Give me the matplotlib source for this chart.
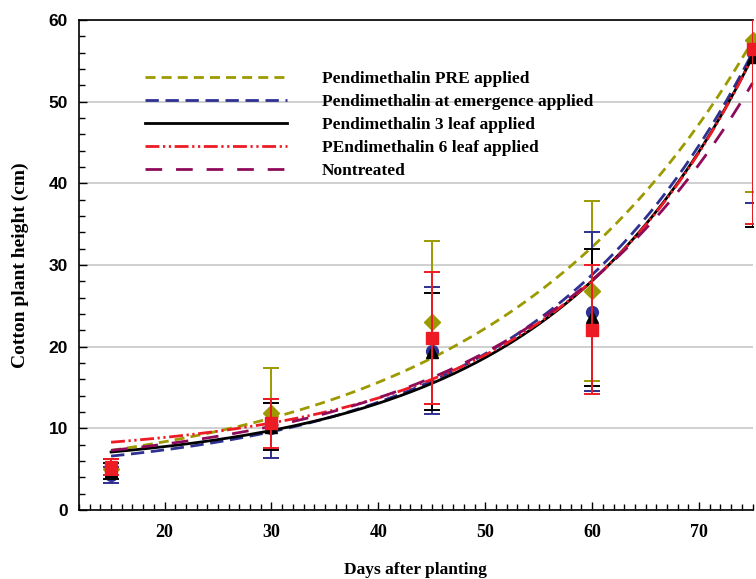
import numpy as np
import matplotlib
matplotlib.use("Agg")
import matplotlib.pyplot as plt
from matplotlib.ticker import MultipleLocator

# ---- data ----
days = [15, 30, 45, 60, 75]
labels = ["Pendimethalin PRE applied",
          "Pendimethalin at emergence applied",
          "Pendimethalin 3 leaf applied",
          "PEndimethalin 6 leaf applied",
          "Nontreated"]
colors = ["#9c9a00", "#2e3192", "#000000", "#ed1c24", "#8e0b5a"]

pre_mean = [5.0, 11.9, 23.0, 26.8, 57.6]
pre_err = [1.2, 5.5, 10.0, 11.0, 18.6]
emer_mean = [4.3, 10.0, 19.5, 24.3, 56.0]
emer_err = [1.0, 3.6, 7.8, 9.7, 18.4]
leaf3_mean = [4.8, 10.2, 19.4, 23.6, 55.5]
leaf3_err = [1.0, 2.9, 7.2, 8.4, 20.8]
leaf6_mean = [5.3, 10.6, 21.1, 22.1, 56.5]
leaf6_err = [1.0, 3.0, 8.1, 7.9, 21.5]

# fitted curve parameters: height = a + b * exp(c * day)
fit_a = [2.668, 3.870, 4.868, 6.435, 4.388]
fit_b = [2.497, 1.306, 1.023, 0.823, 1.446]
fit_c = [0.04118, 0.04916, 0.05202, 0.0545, 0.04667]

styles = [(0, (3.6, 2.2)),
          (0, (4.8, 2.4)),
          "-",
          (0, (5.0, 1.3, 0.8, 1.3, 0.8, 1.3)),
          (0, (6.0, 5.0))]

fig = plt.figure(figsize=(7.56, 5.79), dpi=100)
ax = fig.add_axes([79/756, 1 - 510/579, (752.5 - 79)/756, (510 - 20)/579])

xs = np.linspace(days[0], days[-1], 300)
handles = []
for a, b, c, col, ls, lab in zip(fit_a, fit_b, fit_c, colors, styles, labels):
    h, = ax.plot(xs, a + b * np.exp(c * xs), color=col, lw=2.0, ls=ls,
                 label=lab, zorder=3, clip_on=False)
    handles.append(h)

points = [(pre_mean, pre_err, colors[0], "D", 8.5),
          (emer_mean, emer_err, colors[1], "o", 8.5),
          (leaf3_mean, leaf3_err, colors[2], "^", 8.5),
          (leaf6_mean, leaf6_err, colors[3], "s", 8.5)]
for i, (m, e, col, mk, ms) in enumerate(points):
    eb = ax.errorbar(days, m, yerr=e, fmt=mk, color=col, ms=ms, mec=col,
                     ecolor=col, elinewidth=1.4, capsize=6, capthick=1.4,
                     zorder=4 + i)
    for art in eb.lines[0:1]:
        art.set_clip_on(False)

ax.set_xlim(12, 75)
ax.set_ylim(0, 60)
ax.xaxis.set_major_locator(MultipleLocator(10))
ax.xaxis.set_minor_locator(MultipleLocator(1))
ax.yaxis.set_major_locator(MultipleLocator(10))
ax.yaxis.set_minor_locator(MultipleLocator(2))
ax.tick_params(which="both", direction="in", top=False, right=False, width=1)
ax.tick_params(which="major", length=6)
ax.tick_params(which="minor", length=4)
ax.grid(axis="y", which="major", color="#c8c8c8", lw=1.2, zorder=0)
ax.set_axisbelow(True)
ax.spines["right"].set_visible(False)
for s in ["left", "bottom", "top"]:
    ax.spines[s].set_linewidth(1.2)

for t in ax.get_xticklabels():
    t.set_fontfamily("Liberation Serif")
    t.set_fontweight("bold")
    t.set_fontsize(13)
for t in ax.get_yticklabels():
    t.set_fontfamily("Liberation Sans")
    t.set_fontweight("bold")
    t.set_fontsize(12.5)
ax.tick_params(axis="x", pad=10)
ax.tick_params(axis="y", pad=8)

ax.set_xlabel("Days after planting", fontfamily="Liberation Serif",
              fontweight="bold", fontsize=12.5, labelpad=15)
ax.set_ylabel("Cotton plant height (cm)", fontfamily="Liberation Serif",
              fontweight="bold", fontsize=14, labelpad=14)

fs = 12.5
fpx = fs * 100 / 72
leg = ax.legend(handles=handles, loc="upper left",
                bbox_to_anchor=(145/756, 1 - 71/579),
                bbox_transform=fig.transFigure, frameon=False,
                prop={"family": "Liberation Serif", "weight": "bold", "size": fs},
                handlelength=142/fpx, handletextpad=35/fpx,
                labelspacing=(24.2 - fpx)/fpx, borderaxespad=0, borderpad=0)

fig.savefig("out.png", dpi=100)
